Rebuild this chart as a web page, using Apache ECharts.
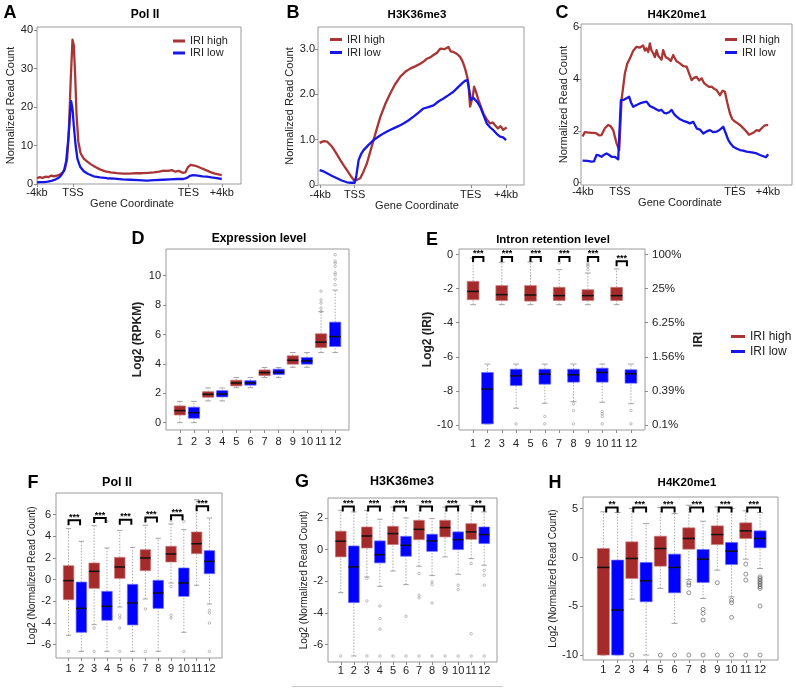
<!DOCTYPE html>
<html>
<head>
<meta charset="utf-8">
<script src="https://cdn.jsdelivr.net/npm/echarts@6/dist/echarts.min.js"></script>
<style>
  html, body { margin: 0; padding: 0; background: #fff; }
  #main { width: 796px; height: 689px; }
</style>
</head>
<body>
<div id="main"></div>
<script>
const FONT = 'Liberation Sans, Arial, Helvetica, sans-serif';
const RED = '#a52a2a', BLUE = '#0000ff';
const LINE_RED = '#a93535', LINE_BLUE = '#1616e6';

// ---- top row: metagene profiles (x: -4kb .. TSS .. TES .. +4kb) ----
const geneLabels = ['-4kb', 'TSS', 'TES', '+4kb'];
const polTicks = [-4, 0, 12.84, 16.56];
const k36Ticks = [-4, 0, 13.53, 17.64];
const k20Ticks = [-4, 0, 12.43, 16.0];

const polHigh = [[-4,1.5],[-3.7,1.8],[-3.4,1.6],[-3.0,1.9],[-2.7,1.8],[-2.4,2.2],[-2.1,2.0],[-1.8,2.2],[-1.5,2.4],[-1.2,2.9],[-0.9,3.8],[-0.65,6.5],[-0.45,14],[-0.25,27],[-0.05,37.5],[0.1,36],[0.25,28],[0.4,18],[0.6,11],[0.85,8],[1.2,6.6],[1.6,5.8],[2.0,5.1],[2.5,4.4],[3.0,3.8],[3.6,3.3],[4.2,3.0],[4.9,2.8],[5.6,2.7],[6.3,2.7],[7.0,2.8],[7.7,2.8],[8.4,2.9],[9.0,3.0],[9.6,3.2],[10.1,3.5],[10.6,3.4],[11.0,3.6],[11.4,3.2],[11.8,3.4],[12.2,2.9],[12.5,3.0],[12.8,4.4],[13.1,5.0],[13.5,4.8],[13.9,4.5],[14.3,4.1],[14.8,3.6],[15.3,3.1],[15.8,2.7],[16.2,2.5],[16.56,2.3]];
const polLow = [[-4,0.4],[-3.6,0.5],[-3.2,0.5],[-2.8,0.6],[-2.4,0.8],[-2.0,1.1],[-1.6,1.6],[-1.3,2.3],[-1.0,3.4],[-0.75,6],[-0.5,12],[-0.3,19],[-0.2,21.5],[-0.05,19.5],[0.1,15],[0.3,10],[0.5,6.5],[0.8,4.5],[1.2,3.3],[1.7,2.6],[2.3,2.0],[3.0,1.7],[3.8,1.5],[4.6,1.4],[5.5,1.2],[6.4,1.1],[7.3,1.0],[8.2,0.9],[9.1,1.0],[10.0,1.1],[10.8,1.2],[11.6,1.3],[12.3,1.3],[12.7,1.6],[13.0,2.1],[13.4,2.3],[13.9,2.2],[14.4,2.0],[14.9,1.9],[15.4,1.7],[16.0,1.5],[16.56,1.3]];

const k36High = [[-4.07,0.93],[-3.6,0.97],[-3.21,0.96],[-2.9,0.9],[-2.63,0.85],[-2.2,0.72],[-1.66,0.55],[-1.25,0.43],[-0.89,0.33],[-0.45,0.2],[0,0.09],[0.66,0.15],[1.05,0.3],[1.44,0.48],[1.8,0.72],[2.21,0.99],[2.6,1.25],[2.99,1.5],[3.6,1.8],[4.15,2.02],[4.7,2.22],[5.31,2.39],[5.9,2.5],[6.48,2.57],[7.05,2.62],[7.64,2.68],[8.0,2.72],[8.42,2.79],[8.8,2.82],[9.19,2.87],[9.6,2.92],[9.97,3.01],[10.45,3.0],[10.93,3.05],[11.2,2.95],[11.51,2.94],[11.9,2.9],[12.29,2.83],[12.6,2.72],[12.87,2.57],[13.1,2.4],[13.26,2.24],[13.45,1.73],[13.76,1.95],[13.92,2.17],[14.15,2.05],[14.42,1.88],[15.0,1.58],[15.4,1.45],[15.78,1.36],[16.1,1.38],[16.36,1.32],[16.7,1.25],[17.0,1.3],[17.3,1.22],[17.72,1.27]];
const k36Low = [[-4.07,0.33],[-3.6,0.3],[-3.21,0.26],[-2.6,0.2],[-2.05,0.15],[-1.5,0.1],[-0.89,0.06],[-0.4,0.05],[0,0.05],[0.2,0.2],[0.47,0.55],[0.75,0.68],[1.05,0.77],[1.6,0.88],[2.21,0.99],[2.8,1.07],[3.37,1.14],[3.95,1.2],[4.53,1.25],[5.1,1.3],[5.7,1.36],[6.3,1.43],[6.86,1.51],[7.45,1.6],[8.02,1.69],[8.6,1.72],[9.19,1.76],[9.8,1.85],[10.35,1.91],[10.9,1.98],[11.51,2.06],[12.0,2.15],[12.48,2.24],[12.85,2.3],[13.14,2.32],[13.35,2.1],[13.53,1.88],[13.8,1.93],[14.03,1.91],[14.3,1.83],[14.62,1.73],[15.0,1.55],[15.39,1.36],[15.8,1.27],[16.16,1.21],[16.55,1.13],[16.94,1.07],[17.3,1.05],[17.64,0.99]];

const k20High = [[-4.03,1.78],[-3.8,1.95],[-3.6,1.97],[-3.3,1.93],[-3.06,1.92],[-2.8,1.92],[-2.52,1.9],[-2.25,1.83],[-1.98,1.84],[-1.62,2.1],[-1.26,2.23],[-1.0,2.18],[-0.72,2.03],[-0.36,1.52],[-0.07,1.26],[0.18,3.19],[0.54,4.22],[0.8,4.6],[1.08,4.8],[1.45,5.1],[1.8,5.25],[2.16,5.22],[2.52,5.3],[2.7,5.1],[2.88,5.19],[3.06,5.05],[3.24,5.38],[3.42,5.1],[3.6,5.0],[3.78,4.85],[3.96,5.12],[4.14,4.9],[4.32,4.93],[4.5,4.75],[4.68,5.12],[4.95,4.85],[5.22,4.8],[5.5,4.7],[5.76,4.93],[6.1,4.7],[6.49,4.61],[6.85,4.5],[7.21,4.48],[7.5,4.2],[7.75,3.96],[8.0,4.05],[8.29,4.09],[8.56,3.95],[8.83,4.03],[9.1,3.85],[9.37,3.77],[9.64,3.7],[9.91,3.71],[10.2,3.62],[10.45,3.58],[10.81,3.38],[11.1,3.55],[11.35,3.51],[11.6,3.1],[11.89,2.68],[12.15,2.45],[12.43,2.36],[12.7,2.3],[12.97,2.23],[13.35,2.1],[13.69,1.97],[13.95,1.85],[14.24,1.9],[14.5,1.95],[14.78,2.03],[15.05,2.0],[15.32,2.1],[15.6,2.2],[16.03,2.23]];
const k20Low = [[-4.03,0.85],[-3.5,0.84],[-3.06,0.81],[-2.8,0.82],[-2.52,1.07],[-2.25,1.05],[-1.98,1.0],[-1.7,1.08],[-1.44,1.13],[-1.2,1.08],[-0.9,1.0],[-0.55,1.0],[-0.18,0.9],[0.11,3.19],[0.42,3.2],[0.72,3.26],[1.01,3.32],[1.2,3.1],[1.44,2.93],[1.8,3.0],[2.16,3.06],[2.52,3.1],[2.88,3.13],[3.24,2.96],[3.6,2.9],[3.96,2.83],[4.23,2.78],[4.5,2.81],[4.78,2.7],[5.05,2.68],[5.32,2.72],[5.59,2.81],[5.86,2.65],[6.13,2.55],[6.5,2.45],[6.85,2.39],[7.2,2.35],[7.57,2.29],[7.93,2.35],[8.29,2.1],[8.65,2.05],[9.01,1.9],[9.37,1.98],[9.73,2.03],[10.09,1.95],[10.45,1.97],[10.81,2.05],[11.17,2.16],[11.45,1.9],[11.71,1.65],[11.98,1.5],[12.25,1.39],[12.6,1.32],[12.97,1.26],[13.33,1.24],[13.69,1.2],[14.05,1.18],[14.41,1.16],[14.78,1.13],[15.14,1.07],[15.5,1.02],[15.78,0.98],[16.03,1.1]];

// ---- box plots: [lower whisker, Q1, median, Q3, upper whisker], groups 1..12 ----
const groups = [1,2,3,4,5,6,7,8,9,10,11,12];

const exprBoxes = [[0,0.52,0.82,1.14,1.45],[0,0.3,0.68,1.05,1.45],[1.48,1.73,1.93,2.11,2.36],[1.48,1.75,1.95,2.18,2.36],[2.38,2.5,2.7,2.89,3.07],[2.38,2.55,2.7,2.86,3.07],[3.07,3.2,3.41,3.59,3.75],[3.07,3.27,3.43,3.64,3.75],[3.77,3.98,4.25,4.55,4.77],[3.77,3.98,4.2,4.43,4.77],[4.77,5.11,5.48,6.05,7.55],[4.77,5.18,5.86,6.84,9.02]];
const exprOut = [[11,7.57],[11,7.8],[11,8.14],[11,8.36],[11,8.95],[12,9.39],[12,9.77],[12,10.07],[12,10.2],[12,10.64],[12,10.86],[12,10.98],[12,11.43]];

const iriBoxes = [[-2.94,-2.65,-2.16,-1.57,-0.2],[-9.94,-9.94,-7.9,-6.92,-6.43],[-2.94,-2.7,-2.35,-1.82,-0.45],[-9.02,-7.69,-7.12,-6.73,-6.43],[-2.94,-2.73,-2.37,-1.82,-0.43],[-8.73,-7.61,-7.02,-6.73,-6.43],[-2.94,-2.7,-2.41,-1.92,-0.88],[-8.63,-7.49,-7.06,-6.73,-6.43],[-2.94,-2.7,-2.41,-2.06,-1.08],[-8.67,-7.49,-6.92,-6.67,-6.43],[-2.94,-2.7,-2.41,-1.92,-0.84],[-8.76,-7.55,-7.0,-6.76,-6.43]];
const iriOut = [[7,-0.49],[9,-0.88],[9,-0.69],[9,-0.6],[9,-0.53],[4,-9.94],[6,-9.51],[6,-9.94],[8,-8.76],[8,-9.16],[8,-9.94],[10,-9.22],[10,-9.35],[10,-9.51],[10,-9.94],[12,-9.16],[12,-9.94]];
const iriSig = [[1,1.72,-0.14,'***'],[3,3.72,-0.14,'***'],[5,5.72,-0.14,'***'],[7,7.72,-0.14,'***'],[9,9.72,-0.14,'***'],[11,11.72,-0.39,'***']];
const iriTicks = [0,-2,-4,-6,-8,-10];
const iriPct = ['100%','25%','6.25%','1.56%','0.39%','0.1%'];

const polBoxes = [[-5.14,-1.85,-0.09,1.29,4.71],[-6.62,-4.86,-2.65,-0.22,3.54],[-4.15,-0.8,0.77,1.54,4.98],[-6.62,-3.75,-2.46,-1.08,2.92],[-2.52,0.12,1.17,2.06,4.55],[-6.62,-4.18,-2.15,-0.43,2.98],[-1.78,0.83,2.0,2.77,5.02],[-6.62,-2.65,-1.23,-0.06,3.82],[-0.31,1.63,2.37,3.08,5.14],[-4.86,-1.54,-0.31,1.08,4.62],[-0.52,2.4,3.32,4.4,7.38],[-2.25,0.55,1.69,2.68,5.69]];
const polOut = [[1,-6.62],[3,-4.46],[3,-6.62],[4,5.38],[5,-3.29],[5,-3.54],[5,-4.46],[5,-6.62],[7,-2.71],[7,-6.62],[9,-0.62],[9,-3.29],[9,-3.54],[9,5.45],[10,-6.62],[10,5.38],[12,-2.83],[12,-3.08],[12,-4.0],[12,-6.62]];
const polSig = [[1,1.9,5.48,'***'],[3,3.9,5.69,'***'],[5,5.9,5.54,'***'],[7,7.9,5.75,'***'],[9,9.9,5.94,'***'],[11,11.9,6.77,'***']];

const k36Boxes = [[-2.72,-0.46,0.53,1.16,2.48],[-6.72,-3.35,-1.09,0.23,2.38],[-1.73,0.1,0.86,1.43,2.48],[-2.32,-0.84,-0.32,0.55,1.92],[-1.35,0.32,1.01,1.47,2.69],[-2.21,-0.42,0.27,0.84,2.0],[-1.05,0.63,1.28,1.85,2.8],[-1.64,-0.11,0.55,0.97,1.96],[-0.46,0.8,1.39,1.85,2.69],[-1.56,0,0.63,1.12,2.8],[-0.57,0.65,1.12,1.64,2.8],[-0.99,0.38,0.95,1.43,2.38]];
const k36Out = [[1,-6.72],[3,-1.83],[3,-3.24],[3,-6.72],[4,-3.56],[4,-4.36],[4,-5.03],[4,-6.72],[5,-6.72],[6,-4.21],[6,-6.72],[7,-1.52],[7,-2.88],[7,-3.05],[7,-6.72],[8,-2.04],[8,-2.21],[8,-3.37],[8,-6.72],[9,-6.72],[10,-2.25],[10,-2.53],[10,-6.72],[11,-0.88],[11,-5.31],[11,-6.72],[12,-1.31],[12,-1.62],[12,-2.25],[12,-6.72]];
const k36Sig = [[1.15,2,2.72,'***'],[3.1,4,2.72,'***'],[5.1,6,2.72,'***'],[7.1,8,2.72,'***'],[9.1,10,2.72,'***'],[11.1,12,2.72,'**']];

const k20Boxes = [[-10,-10,-1.02,0.92,4.68],[-10,-10,-5.39,-0.27,4.61],[-4.27,-2.15,-0.1,1.6,5.02],[-10,-4.54,-2.39,-0.51,3.48],[-3.17,-0.89,0.92,2.18,5.12],[-6.76,-3.62,-1.02,0.34,4.5],[-2.25,0.85,1.95,3.04,5.36],[-4.2,-2.56,-0.17,0.82,3.72],[-1.3,1.33,2.35,3.24,5.19],[-4.03,-0.72,0.65,1.54,5.02],[-0.17,1.95,2.73,3.55,4.78],[-1.13,0.99,1.95,2.73,4.61]];
const k20Out = [[3,-10],[5,-10],[6,-10],[7,-2.59],[7,-2.83],[7,-3.62],[7,-10],[8,-5.32],[8,-5.73],[8,-6.42],[8,-10],[9,-2.59],[9,-10],[10,-4.37],[10,-4.64],[10,-6.14],[10,-10],[11,-0.68],[11,-1.71],[11,-2.32],[11,-10],[12,-1.98],[12,-2.15],[12,-2.32],[12,-2.5],[12,-2.66],[12,-2.83],[12,-3.0],[12,-3.17],[12,-4.98],[12,-10]];
const k20Sig = [[1.2,2,5.12,'**'],[3.1,4,5.12,'***'],[5.1,6,5.12,'***'],[7.1,8,5.12,'***'],[9.1,10,5.12,'***'],[11.1,12,5.12,'***']];

// ---------------------------------------------------------------
const chart = echarts.init(document.getElementById('main'), null, {renderer: 'canvas'});

function labelFor(ticks, labels, v) {
  const i = ticks.findIndex(t => Math.abs(t - v) < 1e-6);
  return i >= 0 ? labels[i] : '';
}

function makeAxis(grid, min, max, ticks, labels, o) {
  o = o || {};
  return {
    type: 'value', gridIndex: grid, min: min, max: max,
    position: o.position,
    splitLine: {show: false},
    axisLine: {show: false, onZero: false},
    axisTick: {show: true, customValues: ticks, length: 3, lineStyle: {color: '#8a8a8a'}},
    axisLabel: {
      customValues: ticks,
      formatter: v => labels ? labelFor(ticks, labels, v) : String(v),
      fontSize: o.size || 11, color: '#222', fontFamily: FONT, margin: o.margin == null ? 4 : o.margin
    },
    name: o.name || '',
    nameLocation: 'middle',
    nameGap: o.nameGap || 15,
    nameRotate: o.nameRotate,
    nameTextStyle: Object.assign({fontSize: 11, color: '#222', fontFamily: FONT}, o.nameStyle || {})
  };
}

const grids = [
  {left: 37, top: 27, width: 204, height: 157},
  {left: 318, top: 27, width: 206, height: 158},
  {left: 581, top: 24, width: 211, height: 161},
  {left: 166, top: 249, width: 183, height: 181},
  {left: 459, top: 249, width: 186, height: 181},
  {left: 56, top: 493, width: 166, height: 165},
  {left: 328, top: 498, width: 169, height: 164},
  {left: 583, top: 497, width: 195, height: 163}
].map(g => Object.assign(g, {show: true, borderColor: '#9a9a9a', borderWidth: 1, backgroundColor: 'transparent', containLabel: false}));

const xAxes = [
  makeAxis(0, -4, 18.7, polTicks, geneLabels, {margin: 3, name: 'Gene Coordinate', nameGap: 7, nameStyle: {padding: [0, 14, 0, 0]}}),
  makeAxis(1, -4.26, 19.73, k36Ticks, geneLabels, {margin: 4, name: 'Gene Coordinate', nameGap: 8, nameStyle: {padding: [0, 8, 0, 0]}}),
  makeAxis(2, -4.2, 18.6, k20Ticks, geneLabels, {margin: 1, name: 'Gene Coordinate', nameGap: 6, nameStyle: {padding: [0, 13, 0, 0]}}),
  makeAxis(3, 0.02, 12.98, groups, null, {margin: 6}),
  makeAxis(4, 0.02, 12.98, groups, null, {margin: 8}),
  makeAxis(5, 0.02, 12.98, groups, null, {margin: 5}),
  makeAxis(6, 0.02, 12.98, groups, null, {margin: 3}),
  makeAxis(7, -0.43, 13.26, groups, null, {margin: 4})
];

const yAxes = [
  makeAxis(0, 0, 40.8, [0,10,20,30,40], null, {margin: 4, name: 'Normalized Read Count', nameGap: 18}),
  makeAxis(1, 0, 3.49, [0,1,2,3], ['0','1.0','2.0','3.0'], {margin: 3, name: 'Normalized Read Count', nameGap: 18}),
  makeAxis(2, -0.09, 6.13, [0,2,4,6], null, {margin: 2, name: 'Normalized Read Count', nameGap: 12}),
  makeAxis(3, -0.5, 11.82, [0,2,4,6,8,10], null, {margin: 5, name: 'Log2 (RPKM)', nameGap: 22, nameStyle: {fontWeight: 'bold', fontSize: 12}}),
  makeAxis(4, -10.3, 0.33, iriTicks, null, {margin: 6, name: 'Log2 (IRI)', nameGap: 20, nameStyle: {fontWeight: 'bold', fontSize: 12}}),
  makeAxis(5, -7.23, 8.0, [-6,-4,-2,0,2,4,6], null, {margin: 5, name: 'Log2 (Normalized Read Count)', nameGap: 18, nameStyle: {fontSize: 10}}),
  makeAxis(6, -7.1, 3.26, [-6,-4,-2,0,2], null, {margin: 5, name: 'Log2 (Normalized Read Count)', nameGap: 17, nameStyle: {fontSize: 10}}),
  makeAxis(7, -10.51, 6.2, [-10,-5,0,5], null, {margin: 5, name: 'Log2 (Normalized Read Count)', nameGap: 19, nameStyle: {fontSize: 10}}),
  makeAxis(4, -10.3, 0.33, iriTicks, iriPct, {position: 'right', margin: 7, size: 11.5, name: 'IRI', nameGap: 48, nameRotate: 90, nameStyle: {fontWeight: 'bold', fontSize: 12}})
];

function lineSeries(name, grid, data, color) {
  return {
    type: 'line', name: name, xAxisIndex: grid, yAxisIndex: grid, data: data,
    showSymbol: false, symbol: 'none', silent: true,
    itemStyle: {color: color},
    lineStyle: {color: color, width: 2.3, join: 'round'}
  };
}

function boxSeries(name, grid, boxes, parity, color, edge, width) {
  const rows = [];
  boxes.forEach((b, i) => { if (i % 2 === parity) rows.push([groups[i]].concat(b)); });
  return {
    type: 'custom', name: name, xAxisIndex: grid, yAxisIndex: grid, silent: true,
    itemStyle: {color: color},
    encode: {x: 0, y: [1, 2, 3, 4, 5]},
    data: rows,
    renderItem: function (params, api) {
      const c = api.value(0);
      const w = api.size([width, 0])[0];
      const lo = api.coord([c, api.value(1)]);
      const q1 = api.coord([c, api.value(2)]);
      const md = api.coord([c, api.value(3)]);
      const q3 = api.coord([c, api.value(4)]);
      const hi = api.coord([c, api.value(5)]);
      const x = lo[0];
      const dash = {stroke: '#a0a0a0', lineWidth: 0.9, lineDash: [1.5, 1.5]};
      const cap = {stroke: '#9a9a9a', lineWidth: 0.9};
      return {type: 'group', children: [
        {type: 'line', shape: {x1: x, y1: lo[1], x2: x, y2: q1[1]}, style: dash},
        {type: 'line', shape: {x1: x, y1: q3[1], x2: x, y2: hi[1]}, style: dash},
        {type: 'line', shape: {x1: x - w / 4, y1: lo[1], x2: x + w / 4, y2: lo[1]}, style: cap},
        {type: 'line', shape: {x1: x - w / 4, y1: hi[1], x2: x + w / 4, y2: hi[1]}, style: cap},
        {type: 'rect', shape: {x: x - w / 2, y: q3[1], width: w, height: Math.max(q1[1] - q3[1], 0.5)},
          style: {fill: color, stroke: edge, lineWidth: 0.7}},
        {type: 'line', shape: {x1: x - w / 2, y1: md[1], x2: x + w / 2, y2: md[1]}, style: {stroke: '#111', lineWidth: 1.5}}
      ]};
    }
  };
}

function outlierSeries(grid, data, size, color) {
  return {
    type: 'scatter', xAxisIndex: grid, yAxisIndex: grid, data: data, silent: true,
    symbol: 'circle', symbolSize: size,
    itemStyle: {color: 'rgba(0,0,0,0)', borderColor: color, borderWidth: 0.8}
  };
}

function sigSeries(grid, sig) {
  return {
    type: 'custom', xAxisIndex: grid, yAxisIndex: grid, silent: true, z: 5,
    encode: {x: [0, 1], y: 2},
    data: sig.map(s => [s[0], s[1], s[2]]),
    renderItem: function (params, api) {
      const p1 = api.coord([api.value(0), api.value(2)]);
      const p2 = api.coord([api.value(1), api.value(2)]);
      const leg = 5;
      return {type: 'group', children: [
        {type: 'polyline', shape: {points: [[p1[0], p1[1] + leg], [p1[0], p1[1]], [p2[0], p2[1]], [p2[0], p2[1] + leg]]},
          style: {stroke: '#000', lineWidth: 2, fill: null}},
        {type: 'text', x: (p1[0] + p2[0]) / 2, y: p1[1] - 3,
          style: {text: sig[params.dataIndex][3], fill: '#000', font: 'bold 9px ' + FONT, align: 'center', verticalAlign: 'middle'}}
      ]};
    }
  };
}

const series = [
  lineSeries('IRI high', 0, polHigh, LINE_RED),
  lineSeries('IRI low', 0, polLow, LINE_BLUE),
  lineSeries('IRI high', 1, k36High, LINE_RED),
  lineSeries('IRI low', 1, k36Low, LINE_BLUE),
  lineSeries('IRI high', 2, k20High, LINE_RED),
  lineSeries('IRI low', 2, k20Low, LINE_BLUE)
];

const boxPanels = [
  {grid: 3, boxes: exprBoxes, out: exprOut, sig: null, w: 0.8, size: 2.5, oc: '#9a9a9a'},
  {grid: 4, boxes: iriBoxes, out: iriOut, sig: iriSig, w: 0.82, size: 2.5, oc: '#9a9a9a'},
  {grid: 5, boxes: polBoxes, out: polOut, sig: polSig, w: 0.82, size: 2.5, oc: '#9a9a9a'},
  {grid: 6, boxes: k36Boxes, out: k36Out, sig: k36Sig, w: 0.82, size: 2.5, oc: '#9a9a9a'},
  {grid: 7, boxes: k20Boxes, out: k20Out, sig: k20Sig, w: 0.85, size: 4, oc: '#555'}
];
boxPanels.forEach(p => {
  series.push(boxSeries('IRI high', p.grid, p.boxes, 0, RED, '#c77a7a', p.w));
  series.push(boxSeries('IRI low', p.grid, p.boxes, 1, BLUE, '#6b6bff', p.w));
  series.push(outlierSeries(p.grid, p.out, p.size, p.oc));
  if (p.sig) series.push(sigSeries(p.grid, p.sig));
});

function legendAt(left, top, itemW, size, lh) {
  return {
    left: left, top: top, orient: 'vertical', selectedMode: false,
    data: ['IRI high', 'IRI low'], icon: 'rect',
    itemWidth: itemW, itemHeight: 3, itemGap: 0,
    padding: 0,
    textStyle: {fontSize: size, color: '#222', fontFamily: FONT, lineHeight: lh}
  };
}

const panelText = [
  ['A', 10, 13, 18], ['B', 293, 13, 18], ['C', 562, 13, 18],
  ['D', 138, 239, 18], ['E', 432, 240, 18],
  ['F', 33, 483, 18], ['G', 302, 482, 18], ['H', 555, 483, 18]
];
const titleText = [
  ['Pol II', 145, 15, 12], ['H3K36me3', 417, 15, 11.5], ['H4K20me1', 677, 15, 11.5],
  ['Expression level', 259, 239, 12], ['Intron retention level', 553, 240, 11.5],
  ['Pol II', 117, 483, 12.5], ['H3K36me3', 402, 482, 12.5], ['H4K20me1', 687, 483, 11.5]
];

const graphics = panelText.concat(titleText).map(t => ({
  type: 'text', x: t[1], y: t[2], silent: true,
  style: {text: t[0], fill: '#000', font: 'bold ' + t[3] + 'px ' + FONT, align: 'center', verticalAlign: 'middle'}
}));
graphics.push({type: 'line', silent: true, shape: {x1: 292, y1: 686.5, x2: 503, y2: 686.5}, style: {stroke: '#c8c8c8', lineWidth: 1}});

chart.setOption({
  animation: false,
  backgroundColor: '#fff',
  textStyle: {fontFamily: FONT},
  grid: grids,
  xAxis: xAxes,
  yAxis: yAxes,
  legend: [
    legendAt(173, 35, 12, 11, 12),
    legendAt(330, 33, 12, 11, 13),
    legendAt(725, 33, 12, 11, 13),
    legendAt(731, 329, 14, 12, 15)
  ],
  graphic: graphics,
  series: series
});
</script>
</body>
</html>
